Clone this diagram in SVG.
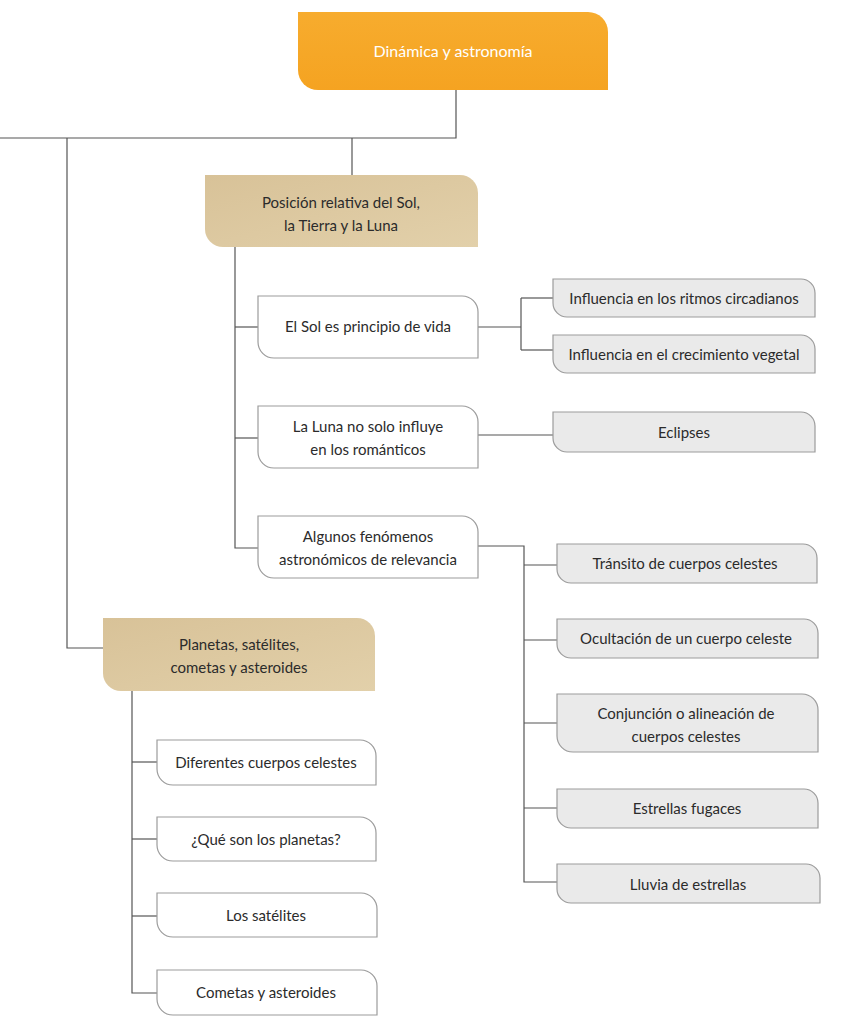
<svg xmlns="http://www.w3.org/2000/svg" width="860" height="1024" viewBox="0 0 860 1024">
<defs>
<linearGradient id="og" x1="0" y1="0" x2="0" y2="1">
<stop offset="0" stop-color="#F7AC2E"/>
<stop offset="1" stop-color="#F5A321"/>
</linearGradient>
<linearGradient id="tg" x1="0" y1="0" x2="1" y2="1">
<stop offset="0" stop-color="#D8C298"/>
<stop offset="1" stop-color="#E2D0AA"/>
</linearGradient>
</defs>
<style>
text{font-family:"Lato","Liberation Sans",sans-serif;font-size:15px;fill:#2b2b2b;text-anchor:middle;}
.title{fill:#FFFFFF;font-size:16px;}
.tan{fill:url(#tg);stroke:none;}
.wh{fill:#FFFFFF;stroke:#9C9C9C;stroke-width:1.2;}
.gr{fill:#EAEAEA;stroke:#9C9C9C;stroke-width:1.2;}
.conn path{fill:none;stroke:#555555;stroke-width:1.2;}
</style>
<rect width="860" height="1024" fill="#FFFFFF"/>

<g id="connectors" class="conn">
<path d="M456 90 V138 H0"/>
<path d="M352 138 V175"/>
<path d="M67 138 V648 H103"/>
<path d="M235 247 V548 H258"/>
<path d="M235 327 H258"/>
<path d="M235 438 H258"/>
<path d="M478 327 H521"/>
<path d="M521 298 V350"/>
<path d="M521 298 H553"/>
<path d="M521 350 H553"/>
<path d="M478 435 H553"/>
<path d="M478 546 H524 V882 H557"/>
<path d="M524 565 H557"/>
<path d="M524 640 H557"/>
<path d="M524 723 H557"/>
<path d="M524 808 H557"/>
<path d="M132 691 V993 H157"/>
<path d="M132 762 H157"/>
<path d="M132 839 H157"/>
<path d="M132 916 H157"/>
</g>

<g id="n-title">
<path d="M298 12 H588 A20 20 0 0 1 608 32 V90 H318 A20 20 0 0 1 298 70 Z" fill="url(#og)"/>
<text class="title" x="453" y="57">Dinámica y astronomía</text>
</g>

<g id="n-posicion">
<path class="tan" d="M205 175 H460 A18 18 0 0 1 478 193 V247 H223 A18 18 0 0 1 205 229 Z"/>
<text x="341" y="208">Posición relativa del Sol,</text>
<text x="341" y="231">la Tierra y la Luna</text>
</g>

<g id="n-sol">
<path class="wh" d="M258 296 H462 A16 16 0 0 1 478 312 V358 H274 A16 16 0 0 1 258 342 Z"/>
<text x="368" y="332">El Sol es principio de vida</text>
</g>

<g id="n-ritmos">
<path class="gr" d="M553 279 H801 A14 14 0 0 1 815 293 V317 H567 A14 14 0 0 1 553 303 Z"/>
<text x="684" y="304">Influencia en los ritmos circadianos</text>
</g>

<g id="n-vegetal">
<path class="gr" d="M553 335 H801 A14 14 0 0 1 815 349 V373 H567 A14 14 0 0 1 553 359 Z"/>
<text x="684" y="360">Influencia en el crecimiento vegetal</text>
</g>

<g id="n-luna">
<path class="wh" d="M258 406 H462 A16 16 0 0 1 478 422 V468 H274 A16 16 0 0 1 258 452 Z"/>
<text x="368" y="432">La Luna no solo influye</text>
<text x="368" y="455">en los románticos</text>
</g>

<g id="n-eclipses">
<path class="gr" d="M553 412 H801 A14 14 0 0 1 815 426 V452 H567 A14 14 0 0 1 553 438 Z"/>
<text x="684" y="438">Eclipses</text>
</g>

<g id="n-algunos">
<path class="wh" d="M258 516 H462 A16 16 0 0 1 478 532 V578 H274 A16 16 0 0 1 258 562 Z"/>
<text x="368" y="542">Algunos fenómenos</text>
<text x="368" y="565">astronómicos de relevancia</text>
</g>

<g id="n-transito">
<path class="gr" d="M557 544 H803 A14 14 0 0 1 817 558 V583 H571 A14 14 0 0 1 557 569 Z"/>
<text x="685" y="569">Tránsito de cuerpos celestes</text>
</g>

<g id="n-ocultacion">
<path class="gr" d="M557 619 H804 A14 14 0 0 1 818 633 V658 H571 A14 14 0 0 1 557 644 Z"/>
<text x="686" y="644">Ocultación de un cuerpo celeste</text>
</g>

<g id="n-conjuncion">
<path class="gr" d="M557 694 H802 A16 16 0 0 1 818 710 V752 H573 A16 16 0 0 1 557 736 Z"/>
<text x="686" y="719">Conjunción o alineación de</text>
<text x="686" y="742">cuerpos celestes</text>
</g>

<g id="n-estrellas">
<path class="gr" d="M557 789 H804 A14 14 0 0 1 818 803 V828 H571 A14 14 0 0 1 557 814 Z"/>
<text x="687" y="814">Estrellas fugaces</text>
</g>

<g id="n-lluvia">
<path class="gr" d="M557 864 H806 A14 14 0 0 1 820 878 V903 H571 A14 14 0 0 1 557 889 Z"/>
<text x="688" y="890">Lluvia de estrellas</text>
</g>

<g id="n-planetas">
<path class="tan" d="M103 618 H357 A18 18 0 0 1 375 636 V691 H121 A18 18 0 0 1 103 673 Z"/>
<text x="239" y="650">Planetas, satélites,</text>
<text x="239" y="673">cometas y asteroides</text>
</g>

<g id="n-diferentes">
<path class="wh" d="M157 740 H360 A16 16 0 0 1 376 756 V785 H173 A16 16 0 0 1 157 769 Z"/>
<text x="266" y="768">Diferentes cuerpos celestes</text>
</g>

<g id="n-que">
<path class="wh" d="M157 817 H360 A16 16 0 0 1 376 833 V861 H173 A16 16 0 0 1 157 845 Z"/>
<text x="266" y="845">¿Qué son los planetas?</text>
</g>

<g id="n-satelites">
<path class="wh" d="M157 893 H361 A16 16 0 0 1 377 909 V937 H173 A16 16 0 0 1 157 921 Z"/>
<text x="266" y="921">Los satélites</text>
</g>

<g id="n-cometas">
<path class="wh" d="M157 970 H361 A16 16 0 0 1 377 986 V1015 H173 A16 16 0 0 1 157 999 Z"/>
<text x="266" y="998">Cometas y asteroides</text>
</g>
</svg>
